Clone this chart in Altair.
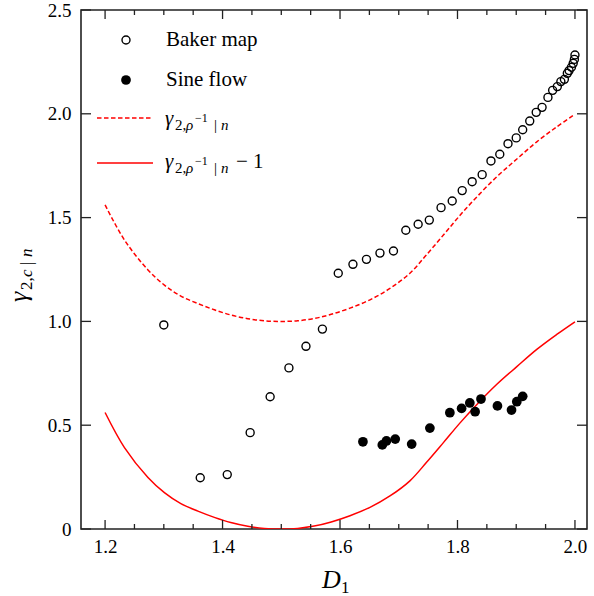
import altair as alt
import pandas as pd

# ---------------- data ----------------
baker_x = [1.300, 1.362, 1.408, 1.447, 1.481, 1.513, 1.542, 1.570, 1.597, 1.622,
           1.645, 1.668, 1.691, 1.712, 1.733, 1.752, 1.772, 1.791, 1.808, 1.825,
           1.842, 1.857, 1.872, 1.886, 1.900, 1.911, 1.923, 1.934, 1.944, 1.954,
           1.962, 1.970, 1.976, 1.982, 1.987, 1.990, 1.994, 1.997, 1.999, 2.000]
baker_y = [0.983, 0.247, 0.262, 0.464, 0.637, 0.776, 0.880, 0.963, 1.232, 1.275,
           1.299, 1.329, 1.339, 1.439, 1.468, 1.488, 1.548, 1.580, 1.630, 1.673,
           1.707, 1.773, 1.805, 1.856, 1.884, 1.923, 1.965, 2.007, 2.031, 2.079,
           2.113, 2.131, 2.155, 2.166, 2.195, 2.208, 2.224, 2.243, 2.262, 2.283]

sine_x = [1.639, 1.672, 1.679, 1.694, 1.722, 1.753, 1.787, 1.807, 1.821, 1.830,
          1.840, 1.868, 1.892, 1.901, 1.911]
sine_y = [0.420, 0.405, 0.424, 0.433, 0.409, 0.486, 0.560, 0.581, 0.607, 0.565,
          0.626, 0.593, 0.573, 0.613, 0.639]

curve_x = [1.200, 1.233, 1.273, 1.301, 1.329, 1.358, 1.386, 1.414, 1.443, 1.471,
           1.500, 1.528, 1.556, 1.585, 1.617, 1.651, 1.685, 1.719, 1.747, 1.776,
           1.804, 1.833, 1.867, 1.901, 1.935, 1.969, 2.000]
dashed_y = [1.561, 1.392, 1.248, 1.175, 1.122, 1.086, 1.056, 1.031, 1.013, 1.003,
            1.000, 1.003, 1.014, 1.034, 1.064, 1.104, 1.159, 1.232, 1.320, 1.416,
            1.510, 1.600, 1.697, 1.782, 1.865, 1.937, 1.998]
solid_y = [0.561, 0.392, 0.248, 0.175, 0.122, 0.086, 0.056, 0.031, 0.013, 0.003,
           0.000, 0.003, 0.014, 0.034, 0.064, 0.104, 0.159, 0.232, 0.320, 0.416,
           0.510, 0.600, 0.697, 0.782, 0.865, 0.937, 0.998]

x_major = [1.2, 1.4, 1.6, 1.8, 2.0]
x_minor = [1.25, 1.3, 1.35, 1.45, 1.5, 1.55, 1.65, 1.7, 1.75, 1.85, 1.9, 1.95]
y_ticks = [0.0, 0.5, 1.0, 1.5, 2.0, 2.5]

# ---------------- layout ----------------
W, H = 506, 519
OX, OY = 81, 10
SERIF = "Liberation Serif"
RED = "#ff0000"

xs = alt.Scale(domain=[1.159, 2.0205], nice=False, zero=False)
ys = alt.Scale(domain=[0, 2.5], nice=False, zero=False)

xax = alt.Axis(values=x_major, format=".1f", ticks=False, domain=False, grid=False,
               labelPadding=8, title=None, labelFlush=False)
yax = alt.Axis(values=y_ticks, ticks=False, domain=False, grid=False,
               labelExpr="datum.value == 0 ? '0' : format(datum.value, '.1f')",
               labelPadding=10, title=None, labelFlush=False)

X = alt.X("D1:Q", scale=xs, axis=xax)
Y = alt.Y("g:Q", scale=ys, axis=yax)

baker = pd.DataFrame({"D1": baker_x, "g": baker_y})
sine = pd.DataFrame({"D1": sine_x, "g": sine_y})
dashed = pd.DataFrame({"D1": curve_x, "g": dashed_y})
solid = pd.DataFrame({"D1": curve_x, "g": solid_y})
one = pd.DataFrame({"a": [0]})

layers = []

layers.append(alt.Chart(dashed).mark_line(color=RED, strokeWidth=1.5, strokeDash=[4.5, 2.5],
                                          interpolate="catmull-rom", clip=True).encode(x=X, y=Y))
layers.append(alt.Chart(solid).mark_line(color=RED, strokeWidth=1.5,
                                         interpolate="catmull-rom", clip=True).encode(x=X, y=Y))
layers.append(alt.Chart(baker).mark_point(shape="circle", filled=False, color="black",
                                          strokeWidth=1.4, size=64, opacity=1).encode(x=X, y=Y))
layers.append(alt.Chart(sine).mark_circle(color="black", size=95, opacity=1).encode(x=X, y=Y))

# inward ticks
xmaj = pd.DataFrame({"D1": x_major})
xmin = pd.DataFrame({"D1": x_minor})
yt = pd.DataFrame({"g": y_ticks})
TK = dict(color="#222", strokeWidth=1.3)
layers.append(alt.Chart(xmaj).mark_rule(**TK).encode(x=X, y=alt.value(H), y2=alt.value(H - 9)))
layers.append(alt.Chart(xmaj).mark_rule(**TK).encode(x=X, y=alt.value(0), y2=alt.value(9)))
layers.append(alt.Chart(xmin).mark_rule(**TK).encode(x=X, y=alt.value(H), y2=alt.value(H - 5)))
layers.append(alt.Chart(xmin).mark_rule(**TK).encode(x=X, y=alt.value(0), y2=alt.value(5)))
layers.append(alt.Chart(yt).mark_rule(**TK).encode(y=Y, x=alt.value(0), x2=alt.value(10)))
layers.append(alt.Chart(yt).mark_rule(**TK).encode(y=Y, x=alt.value(W - 10), x2=alt.value(W)))


def txt(s, x, y, size, italic=False, angle=None, align="left", baseline="alphabetic"):
    kw = dict(text=s, font=SERIF, fontSize=size, color="black", align=align, baseline=baseline)
    if italic:
        kw["fontStyle"] = "italic"
    if angle is not None:
        kw["angle"] = angle
    return alt.Chart(one).mark_text(**kw).encode(x=alt.value(x - OX), y=alt.value(y - OY))


# legend
layers.append(alt.Chart(one).mark_point(shape="circle", filled=False, color="black",
                                        strokeWidth=1.4, size=64, opacity=1)
              .encode(x=alt.value(126 - OX), y=alt.value(40 - OY)))
layers.append(alt.Chart(one).mark_circle(color="black", size=95, opacity=1)
              .encode(x=alt.value(126 - OX), y=alt.value(80 - OY)))
layers.append(alt.Chart(one).mark_rule(color=RED, strokeWidth=1.5, strokeDash=[4.5, 2.5])
              .encode(x=alt.value(97 - OX), x2=alt.value(153 - OX), y=alt.value(118 - OY)))
layers.append(alt.Chart(one).mark_rule(color=RED, strokeWidth=1.5)
              .encode(x=alt.value(97 - OX), x2=alt.value(153 - OX), y=alt.value(163 - OY)))
layers.append(txt("Baker map", 166, 46, 21))
layers.append(txt("Sine flow", 166, 86, 21))
for base in (125, 168):
    layers.append(txt("γ", 165, base, 21, italic=True))
    layers.append(txt("2,", 175, base + 5, 15))
    layers.append(txt("ρ", 186, base + 5, 15, italic=True))
    layers.append(txt("−1", 195, base - 3, 12))
    layers.append(txt("|", 214, base + 5, 15))
    layers.append(txt("n", 221, base + 5, 15, italic=True))
layers.append(txt("− 1", 236, 168, 21))

# x title  D_1
layers.append(txt("D", 322, 588, 26, italic=True))
layers.append(txt("1", 341, 593, 17))

# y title  gamma_{2,c|n}  (rotated)
layers.append(txt("γ", 27, 302, 26, italic=True, angle=270))
layers.append(txt("2,", 32, 290, 17, angle=270))
layers.append(txt("c", 32, 277, 17, italic=True, angle=270))
layers.append(txt("|", 32, 265, 17, angle=270))
layers.append(txt("n", 32, 257, 17, italic=True, angle=270))

chart = alt.layer(*layers).properties(
    width=W, height=H,
    autosize=alt.AutoSizeParams(type="none"),
    padding={"left": OX, "top": OY, "right": 594 - OX - W, "bottom": 596 - OY - H},
    background="white",
).configure_view(stroke="#222", strokeWidth=1.6).configure_axis(
    labelFont=SERIF, labelFontSize=19, labelColor="black"
)

chart.save("out.html", embed_options={"renderer": "svg", "actions": False})
